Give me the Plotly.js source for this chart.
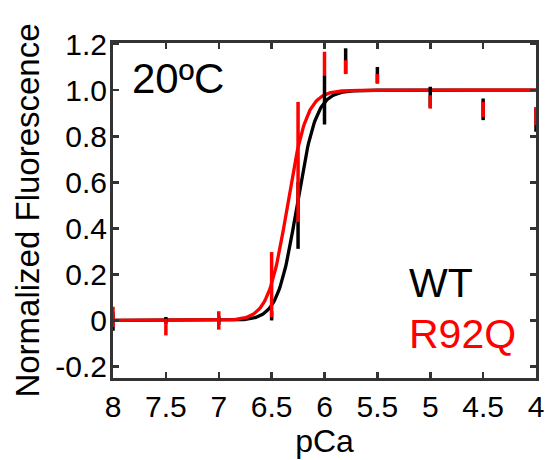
<!DOCTYPE html>
<html>
<head>
<meta charset="utf-8">
<script src="https://cdn.plot.ly/plotly-3.0.1.min.js"></script>
<style>html,body{margin:0;padding:0;background:#fff;}#chart{width:547px;height:460px;}</style>
</head>
<body>
<div id="chart"></div>
<script>
// Measured points (pCa)
const pCa = [8, 7.5, 7, 6.5, 6.25, 6, 5.8, 5.5, 5, 4.5, 4];
const wtMean = [-0.005, 0.0, 0.0, 0.02, 0.456, 0.958, 1.127, 1.065, 0.97, 0.917, 0.872];
const wtErr  = [0.04, 0.015, 0.02, 0.02, 0.145, 0.107, 0.055, 0.036, 0.045, 0.047, 0.053];
const r92qMean = [0.015, -0.029, 0.0, 0.156, 0.688, 1.116, 1.10, 1.05, 0.949, 0.916, 0.887];
const r92qErr  = [0.044, 0.036, 0.04, 0.141, 0.261, 0.051, 0.03, 0.02, 0.029, 0.033, 0.039];

// Hill fit parameters [pCa50, nH]
const wtFit = [6.26, 4.8];
const r92qFit = [6.35, 4.8];

const xTickVals = [8, 7.5, 7, 6.5, 6, 5.5, 5, 4.5, 4];
const xTickText = ['8', '7.5', '7', '6.5', '6', '5.5', '5', '4.5', '4'];
const yTickVals = [-0.2, 0, 0.2, 0.4, 0.6, 0.8, 1.0, 1.2];
const yTickText = ['-0.2', '0', '0.2', '0.4', '0.6', '0.8', '1.0', '1.2'];

function hillCurve(p) {
  const xs = [], ys = [];
  for (let i = 0; i <= 400; i++) {
    const x = 8 - i * 0.01;
    xs.push(x);
    ys.push(1 / (1 + Math.pow(10, p[1] * (x - p[0]))));
  }
  return {xs, ys};
}
const wtC = hillCurve(wtFit);
const rC = hillCurve(r92qFit);

const FONT = '"Liberation Sans", Arial, sans-serif';

const traces = [
  {x: wtC.xs, y: wtC.ys, mode: 'lines', line: {color: '#000', width: 3.3}, hoverinfo: 'skip'},
  {x: rC.xs, y: rC.ys, mode: 'lines', line: {color: '#ff0000', width: 3.3}, hoverinfo: 'skip'},
  {x: pCa, y: wtMean, mode: 'markers', marker: {size: 1, opacity: 0, color: '#000'}, cliponaxis: false,
   error_y: {type: 'data', array: wtErr, visible: true, color: '#000', thickness: 3.5, width: 0}},
  {x: pCa, y: r92qMean, mode: 'markers', marker: {size: 1, opacity: 0, color: '#ff0000'}, cliponaxis: false,
   error_y: {type: 'data', array: r92qErr, visible: true, color: '#ff0000', thickness: 3.5, width: 0}}
];

const axisCommon = {
  showline: true, linecolor: '#333', linewidth: 3, mirror: 'ticks',
  ticks: 'inside', ticklen: 6, tickwidth: 2.5, tickcolor: '#333',
  showgrid: false, zeroline: false,
  tickfont: {family: FONT, size: 30, color: '#000'}
};

const layout = {
  width: 547, height: 460,
  margin: {l: 113, r: 11, t: 43, b: 82},
  paper_bgcolor: '#fff', plot_bgcolor: '#fff',
  showlegend: false,
  font: {family: FONT, color: '#000'},
  xaxis: Object.assign({}, axisCommon, {
    range: [8, 4], tickvals: xTickVals, ticktext: xTickText,
    title: {text: 'pCa', font: {family: FONT, size: 32, color: '#000'}, standoff: 2},
    automargin: false
  }),
  yaxis: Object.assign({}, axisCommon, {
    range: [-0.25, 1.205], tickvals: yTickVals, ticktext: yTickText,
    ticklabelstandoff: -3,
    title: {text: 'Normalized Fluorescence', font: {family: FONT, size: 33, color: '#000'}, standoff: 6},
    automargin: false
  }),
  annotations: [
    {xref: 'paper', yref: 'paper', x: 0.04, y: 0.893, xanchor: 'left', yanchor: 'middle',
     text: '20ºC', showarrow: false, font: {family: FONT, size: 42, color: '#000'}},
    {xref: 'paper', yref: 'paper', x: 0.695, y: 0.284, xanchor: 'left', yanchor: 'middle',
     text: 'WT', showarrow: false, font: {family: FONT, size: 41, color: '#000'}},
    {xref: 'paper', yref: 'paper', x: 0.695, y: 0.131, xanchor: 'left', yanchor: 'middle',
     text: 'R92Q', showarrow: false, font: {family: FONT, size: 41, color: '#ff0000'}}
  ]
};

Plotly.newPlot('chart', traces, layout, {staticPlot: true, displayModeBar: false});
</script>
</body>
</html>
